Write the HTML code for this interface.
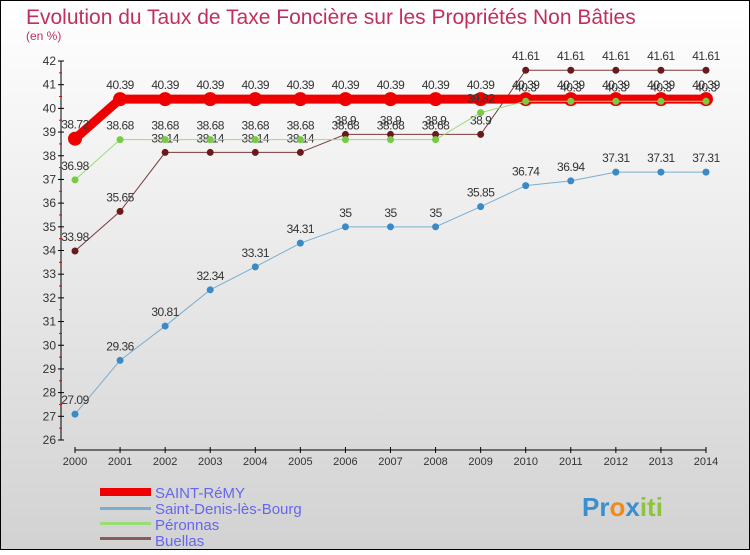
<!DOCTYPE html>
<html><head><meta charset="utf-8"><style>
html,body{margin:0;padding:0}
body{width:750px;height:550px;overflow:hidden;font-family:"Liberation Sans",sans-serif}
svg text{font-family:"Liberation Sans",sans-serif}
</style></head><body>
<svg id="c" width="750" height="550" viewBox="0 0 750 550">
<defs><linearGradient id="bg" x1="0" y1="0" x2="0" y2="1"><stop offset="0" stop-color="#ffffff"/><stop offset="1" stop-color="#d2d2d2"/></linearGradient></defs>
<rect x="0.5" y="0.5" width="749" height="549" fill="url(#bg)" stroke="#000"/>
<text x="26" y="24" font-size="21" fill="#c0305a">Evolution du Taux de Taxe Foncière sur les Propriétés Non Bâties</text>
<text x="26" y="40" font-size="12" fill="#c0305a">(en %)</text>
<g id="axes"></g><g id="series"></g>
<g>
<rect x="100" y="488" width="51" height="8" fill="#e00"/>
<text x="155" y="498" font-size="15" fill="#6666ee">SAINT-RéMY</text>
<rect x="100" y="507" width="51" height="3" fill="#7aaed0"/>
<text x="155" y="514" font-size="15" fill="#6666ee">Saint-Denis-lès-Bourg</text>
<rect x="100" y="522" width="51" height="3" fill="#99dd77"/>
<text x="155" y="530" font-size="15" fill="#6666ee">Péronnas</text>
<rect x="100" y="537" width="51" height="3" fill="#8b5a5a"/>
<text x="155" y="546" font-size="15" fill="#6666ee">Buellas</text>
</g>
<text x="582" y="516" font-size="26" font-weight="bold"><tspan fill="#3a8fd0">Pr</tspan><tspan fill="#f08a1c">o</tspan><tspan fill="#3a8fd0">x</tspan><tspan fill="#8cc43c">iti</tspan></text>
</svg>
<script>
const years=[2000,2001,2002,2003,2004,2005,2006,2007,2008,2009,2010,2011,2012,2013,2014];
const yTicks=[26,27,28,29,30,31,32,33,34,35,36,37,38,39,40,41,42];
const saintRemy=[38.72,40.39,40.39,40.39,40.39,40.39,40.39,40.39,40.39,40.39,40.39,40.39,40.39,40.39,40.39];
const saintDenis=[27.09,29.36,30.81,32.34,33.31,34.31,35,35,35,35.85,36.74,36.94,37.31,37.31,37.31];
const peronnas=[36.98,38.68,38.68,38.68,38.68,38.68,38.68,38.68,38.68,39.82,40.3,40.3,40.3,40.3,40.3];
const buellas=[33.98,35.65,38.14,38.14,38.14,38.14,38.9,38.9,38.9,38.9,41.61,41.61,41.61,41.61,41.61];
const NS="http://www.w3.org/2000/svg";
const X=i=>75+i*(706-75)/14;
const Y=v=>440-(v-26)*(440-61)/16;
function mk(t,a,p){const e=document.createElementNS(NS,t);for(const k in a)e.setAttribute(k,a[k]);p.appendChild(e);return e;}
const ax=document.getElementById('axes');
let l=mk('line',{x1:61,y1:61,x2:61,y2:440,stroke:'#000','stroke-width':1},ax);


l=mk('line',{x1:75,y1:450,x2:706,y2:450,stroke:'#000','stroke-width':1},ax);


yTicks.forEach((v,i)=>{
  mk('line',{x1:58,y1:Y(v),x2:64,y2:Y(v),stroke:'#000'},ax);
  if(i<yTicks.length-1)mk('line',{x1:59,y1:Y(v+0.5),x2:62,y2:Y(v+0.5),stroke:'#e00'},ax);
  const t=mk('text',{x:56,y:Y(v)+4,'font-size':12,fill:'#333','text-anchor':'end'},ax);
  t.textContent=v;
  
  
});
years.forEach((y,i)=>{
  mk('line',{x1:X(i),y1:447,x2:X(i),y2:453,stroke:'#000'},ax);
  const t=mk('text',{x:X(i),y:465,'font-size':11,fill:'#333','text-anchor':'middle'},ax);
  t.textContent=y;
  
  
});
const sg=document.getElementById('series');
function series(vals,name,color,w,r,dot){
  const g=mk('g',{},sg);
  
  
  mk('polyline',{points:vals.map((v,i)=>X(i)+','+Y(v)).join(' '),fill:'none',stroke:color,'stroke-width':w},g);
  vals.forEach((v,i)=>{
    const c=mk('circle',{cx:X(i),cy:Y(v),r:r,fill:dot},g);
    
    
    const t=mk('text',{x:X(i),y:Y(v)-10,'font-size':12,fill:'#333','text-anchor':'middle','letter-spacing':'-0.5'},g);
    t.textContent=v;
    
    
  });
}
series(buellas,'buellas','#7a3a3a',1,3.5,'#6a1a1a');
series(saintDenis,'saint-denis','#7aaed0',1,3.5,'#3a8ac8');
series(saintRemy,'saint-remy','#ee0000',9,7,'#ee0000');
series(peronnas,'peronnas','#99dd77',1,3.5,'#77cc44');
</script>
</body></html>
